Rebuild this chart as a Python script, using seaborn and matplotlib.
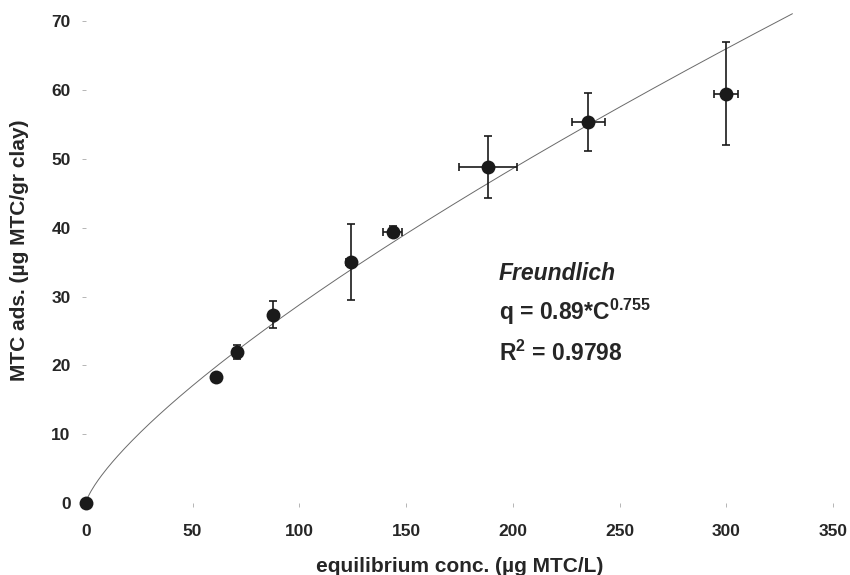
import numpy as np
import pandas as pd
import matplotlib
matplotlib.use("Agg")
import matplotlib.pyplot as plt
import seaborn as sns

# equilibrium concentration (ug MTC/L) and adsorbed amount (ug MTC/gr clay)
conc = [0, 61.2, 70.7, 87.7, 124.0, 143.8, 188.3, 235.3, 299.8]
q_ads = [0, 18.3, 21.9, 27.4, 35.0, 39.4, 48.8, 55.4, 59.5]
conc_err = [0, 0, 2.0, 2.0, 2.0, 4.4, 13.7, 7.7, 5.5]
q_err = [0, 0, 1.0, 2.0, 5.5, 0.8, 4.5, 4.2, 7.5]

# Freundlich fit parameters (q = K * C^n)
k_fit = 0.89
n_fit = 0.755
fit_max = 331

sns.set_style("white")
plt.rcParams['font.family'] = ['Liberation Sans', 'DejaVu Sans']
plt.rcParams['font.weight'] = 'bold'
plt.rcParams['mathtext.fontset'] = 'custom'
plt.rcParams['mathtext.rm'] = 'Liberation Sans:bold'
plt.rcParams['mathtext.bf'] = 'Liberation Sans:bold'
plt.rcParams['mathtext.it'] = 'Liberation Sans:bold:italic'

df = pd.DataFrame({'conc': conc, 'q': q_ads})
c_line = np.linspace(0, fit_max, 400)
fit = pd.DataFrame({'conc': c_line, 'q': k_fit * c_line ** n_fit})

fig = plt.figure(figsize=(8.5, 5.75), dpi=100)
ax = fig.add_axes([0.101, 0.125, 0.879, 0.838])

sns.lineplot(data=fit, x='conc', y='q', ax=ax, color='#6a6a6a', lw=0.7, clip_on=False)
ax.errorbar(conc, q_ads, xerr=conc_err, yerr=q_err, fmt='none', ecolor='#1a1a1a',
            elinewidth=1.2, capsize=3, capthick=1.2, clip_on=False)
sns.scatterplot(data=df, x='conc', y='q', ax=ax, s=100, color='#1a1a1a',
                edgecolor='#1a1a1a', linewidth=0, zorder=5, clip_on=False)

ax.set_xlim(0, 350)
ax.set_ylim(0, 70)
ax.set_xticks(range(0, 351, 50))
ax.set_yticks(range(0, 71, 10))
for s in ax.spines.values():
    s.set_visible(False)
ax.tick_params(axis='both', direction='out', length=3, width=0.5, color='#999999',
               labelsize=12.5)
ax.tick_params(axis='y', pad=8, left=True)
ax.tick_params(axis='x', pad=12, bottom=True)
for lab in ax.get_xticklabels() + ax.get_yticklabels():
    lab.set_fontweight('bold')

ax.set_xlabel('equilibrium conc. (µg MTC/L)', fontsize=15, fontweight='bold')
ax.set_ylabel('MTC ads. (µg MTC/gr clay)', fontsize=15, fontweight='bold')
ax.xaxis.set_label_coords(0.5, -0.112)
ax.yaxis.set_label_coords(-0.076, 0.525)

ax.text(193.5, 32.4, 'Freundlich', fontsize=16.5, fontweight='bold', style='italic')
ax.text(193.5, 26.6, r'q = 0.89*C$^{\mathbf{0.755}}$', fontsize=16.5, fontweight='bold')
ax.text(193.5, 20.6, r'R$^{\mathbf{2}}$ = 0.9798', fontsize=16.5, fontweight='bold')

fig.savefig('out.png', dpi=100)
